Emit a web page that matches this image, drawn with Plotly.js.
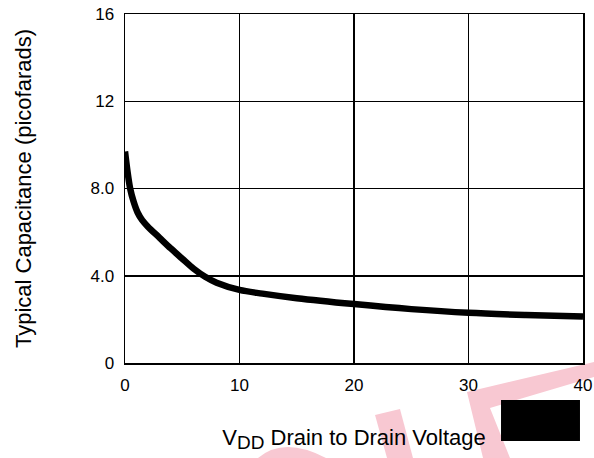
<!DOCTYPE html>
<html>
<head>
<meta charset="utf-8">
<script src="https://cdn.plot.ly/plotly-3.0.1.min.js"></script>
<style>html,body{margin:0;padding:0;background:#fff;}#chart{width:594px;height:458px;}</style>
</head>
<body>
<div id="chart"></div>
<script>
// Drain voltage (V) and typical capacitance (pF)
const voltage     = [0, 0.2, 0.45, 0.75, 1.1, 1.5, 2, 3, 4, 5, 6, 7, 8, 10, 12, 15, 20, 25, 30, 35, 40];
const capacitance = [9.7, 8.85, 8.0, 7.4, 6.9, 6.55, 6.25, 5.75, 5.25, 4.78, 4.32, 3.95, 3.68, 3.35, 3.18, 2.97, 2.7, 2.47, 2.3, 2.2, 2.13];
const xTickVals = [0, 10, 20, 30, 40];
const xTickText = ["0", "10", "20", "30", "40"];
const yTickVals = [0, 4, 8, 12, 16];
const yTickText = ["0", "4.0", "8.0", "12", "16"];

const font = "Liberation Sans, Arial, sans-serif";
const W = 594, H = 458, M = {l: 125, r: 11, t: 14, b: 95};
const PW = W - M.l - M.r, PH = H - M.t - M.b;
// decorative watermark / redaction helpers (page pixel -> paper fraction)
const px = v => ((v - M.l) / PW).toFixed(4);
const py = v => ((H - M.b - v) / PH).toFixed(4);
const P = (x, y) => px(x) + "," + py(y);
const pink = "#f8c8d2";

const trace = {
  x: voltage, y: capacitance, type: "scatter", mode: "lines",
  line: {color: "#000", width: 6.5, shape: "spline", smoothing: 0.9},
  hoverinfo: "skip"
};

const layout = {
  width: W, height: H,
  margin: M,
  paper_bgcolor: "#fff", plot_bgcolor: "#fff",
  showlegend: false,
  font: {family: font, color: "#000", size: 17},
  xaxis: {
    range: [0, 40], tickvals: xTickVals, ticktext: xTickText,
    showgrid: true, gridcolor: "#000", gridwidth: 1.5,
    showline: true, linecolor: "#000", linewidth: 1.5, mirror: true,
    zeroline: false, ticks: "", ticklen: 0, ticklabelstandoff: 6,
    tickfont: {family: font, size: 17, color: "#000"},
    title: {text: "V<sub><span style=\"font-size:19px\">DD</span></sub> Drain to Drain Voltage", font: {family: font, size: 22, color: "#000"}, standoff: 35}
  },
  yaxis: {
    range: [0, 16], tickvals: yTickVals, ticktext: yTickText,
    showgrid: true, gridcolor: "#000", gridwidth: 1.5,
    showline: true, linecolor: "#000", linewidth: 1.5, mirror: true,
    zeroline: false, ticks: "", ticklen: 0, ticklabelstandoff: 6,
    tickfont: {family: font, size: 17, color: "#000"},
    title: {text: "Typical Capacitance (picofarads)", font: {family: font, size: 22, color: "#000"}, standoff: 53}
  },
  shapes: [
    // pink watermark fragments (below everything)
    {type: "path", xref: "paper", yref: "paper", layer: "below", fillcolor: pink, line: {width: 0},
     path: "M" + P(467, 392) + " L" + P(594, 362) + " L" + P(594, 377) + " L" + P(490, 408) + " L" + P(510, 458) + " L" + P(483, 458) + " Z"},
    {type: "path", xref: "paper", yref: "paper", layer: "below", fillcolor: pink, line: {width: 0},
     path: "M" + P(375, 415) + " L" + P(400, 409) + " L" + P(413, 458) + " L" + P(387, 458) + " Z"},
    {type: "path", xref: "paper", yref: "paper", layer: "below", fillcolor: pink, line: {width: 0},
     path: "M" + P(258, 458) + " Q" + P(284, 436) + " " + P(326, 458) + " Z"},
    // black redaction box
    {type: "rect", xref: "paper", yref: "paper", x0: px(501), x1: px(580), y0: py(441), y1: py(400),
     fillcolor: "#000", line: {width: 0}}
  ]
};

Plotly.newPlot("chart", [trace], layout, {staticPlot: true, displayModeBar: false});
</script>
</body>
</html>
